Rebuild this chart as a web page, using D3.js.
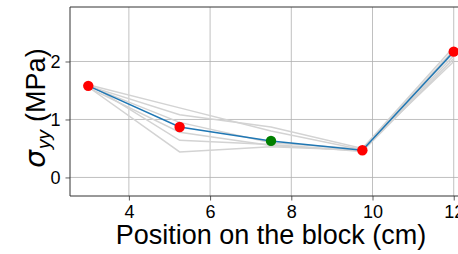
<!DOCTYPE html>
<html><head><meta charset="utf-8">
<script src="https://cdn.jsdelivr.net/npm/d3@7"></script>
<style>
html,body{margin:0;padding:0;background:#fff;overflow:hidden}
text{font-family:"Liberation Sans",Arial,sans-serif}
</style></head>
<body><svg id="c" width="458" height="254"></svg>
<script>
const positions = [3, 5.25, 7.5, 9.75, 12];
const meanValues = [1.58, 0.87, 0.63, 0.47, 2.17];
const runs = [
  [1.60, 1.20, 0.80, 0.48, 2.20],
  [1.58, 1.08, 0.87, 0.50, 2.25],
  [1.55, 0.78, 0.55, 0.46, 2.10],
  [1.62, 0.64, 0.57, 0.45, 2.05],
  [1.56, 0.44, 0.53, 0.47, 2.15],
  [1.58, 0.95, 0.60, 0.49, 2.00]
];
const markerColors = ["red", "red", "green", "red", "red"];
const xTicks = [4, 6, 8, 10, 12];
const yTicks = [0, 1, 2];
const xLabel = "Position on the block (cm)";

const svg = d3.select("#c");
const L = 70, T = 7, B = 196, R = 472;
const x = d3.scaleLinear().domain([2.55, 12.45]).range([L, R]);
const y = d3.scaleLinear().domain([-0.32, 2.94]).range([B, T]);

// grid
svg.append("g").selectAll("line").data(xTicks).join("line")
  .attr("x1", d => x(d)).attr("x2", d => x(d)).attr("y1", T).attr("y2", B)
  .attr("stroke", "#b0b0b0").attr("stroke-width", 0.8);
svg.append("g").selectAll("line").data(yTicks).join("line")
  .attr("x1", L).attr("x2", R).attr("y1", d => y(d)).attr("y2", d => y(d))
  .attr("stroke", "#b0b0b0").attr("stroke-width", 0.8);

const line = d3.line().x((d, i) => x(positions[i])).y(d => y(d));
svg.append("g").selectAll("path").data(runs).join("path")
  .attr("d", line).attr("fill", "none").attr("stroke", "#d3d3d3").attr("stroke-width", 1.5);
svg.append("path").attr("d", line(meanValues)).attr("fill", "none")
  .attr("stroke", "#1f77b4").attr("stroke-width", 1.5);
svg.append("g").selectAll("circle").data(meanValues).join("circle")
  .attr("cx", (d, i) => x(positions[i])).attr("cy", d => y(d)).attr("r", 5.2)
  .attr("fill", (d, i) => markerColors[i]);

// axes
const xAxis = svg.append("g").attr("transform", `translate(0,${B})`)
  .call(d3.axisBottom(x).tickValues(xTicks).tickSize(4.5).tickPadding(4.5).tickFormat(d3.format("d")));
const yAxis = svg.append("g").attr("transform", `translate(${L},0)`)
  .call(d3.axisLeft(y).tickValues(yTicks).tickSize(4.5).tickPadding(5).tickFormat(d3.format("d")));
[xAxis, yAxis].forEach(g => {
  g.select(".domain").remove();
  g.selectAll("line").attr("stroke", "#333").attr("stroke-width", 0.8);
  g.selectAll("text").attr("font-size", 18).attr("fill", "#000")
   .attr("font-family", "Liberation Sans, Arial, sans-serif");
});
// spines
svg.append("line").attr("x1", L).attr("x2", L).attr("y1", T).attr("y2", B).attr("stroke", "#333").attr("stroke-width", 1);
svg.append("line").attr("x1", L).attr("x2", R).attr("y1", B).attr("y2", B).attr("stroke", "#333").attr("stroke-width", 1);
svg.append("line").attr("x1", L).attr("x2", R).attr("y1", T).attr("y2", T).attr("stroke", "#333").attr("stroke-width", 1);

svg.append("text").attr("x", (L + R) / 2).attr("y", 244).attr("text-anchor", "middle")
  .attr("font-size", 27).text(xLabel);

const yl = svg.append("text").attr("transform", `translate(45,108) rotate(-90)`)
  .attr("text-anchor", "middle").attr("font-size", 27);
yl.append("tspan").attr("font-style", "italic").attr("font-family", "DejaVu Sans").attr("font-size", 28).text("σ");
yl.append("tspan").attr("font-style", "italic").attr("font-size", 19).attr("dy", 5).attr("dx", 1).text("yy");
yl.append("tspan").attr("dy", -5).attr("dx", 8).text("(MPa)");
</script></body></html>
